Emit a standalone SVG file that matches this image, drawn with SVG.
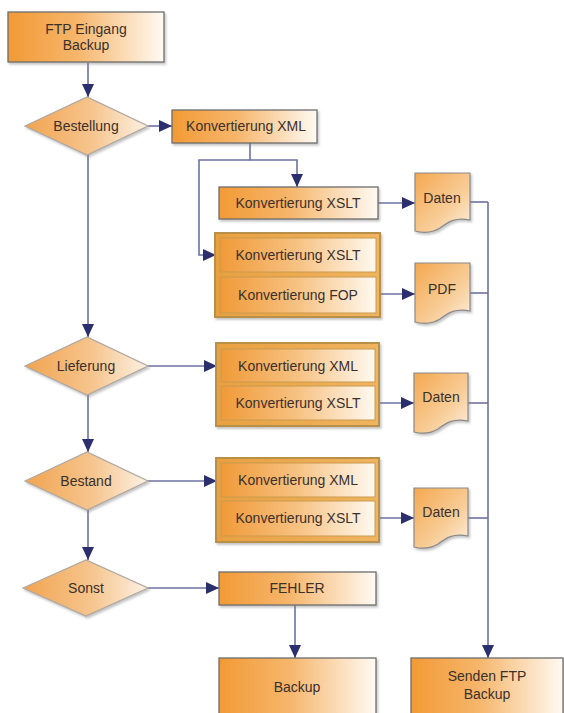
<svg xmlns="http://www.w3.org/2000/svg" width="564" height="713" viewBox="0 0 564 713">
<defs>
<linearGradient id="gBox" x1="0" y1="0" x2="1" y2="0">
<stop offset="0" stop-color="#F29A35"/>
<stop offset="0.45" stop-color="#F6B66C"/>
<stop offset="1" stop-color="#FFFAF3"/>
</linearGradient>
<linearGradient id="gRow" x1="0" y1="0" x2="1" y2="0">
<stop offset="0" stop-color="#F09A38"/>
<stop offset="0.5" stop-color="#F7C283"/>
<stop offset="1" stop-color="#FFF9F0"/>
</linearGradient>
<linearGradient id="gGrp" x1="0" y1="0" x2="1" y2="0">
<stop offset="0" stop-color="#E9A040"/>
<stop offset="1" stop-color="#F0B560"/>
</linearGradient>
<linearGradient id="gDia" x1="0" y1="0" x2="1" y2="0">
<stop offset="0" stop-color="#F1A450"/>
<stop offset="0.55" stop-color="#F6C58E"/>
<stop offset="1" stop-color="#FDF1E4"/>
</linearGradient>
<linearGradient id="gDoc" x1="0" y1="0" x2="1" y2="1">
<stop offset="0" stop-color="#F4A850"/>
<stop offset="0.6" stop-color="#F8CD98"/>
<stop offset="1" stop-color="#FDF0E0"/>
</linearGradient>
<marker id="arr" markerUnits="userSpaceOnUse" markerWidth="14" markerHeight="12" refX="13" refY="6" orient="auto">
<path d="M0,0 L13,6 L0,12 Z" fill="#2B2F6E"/>
</marker>
<filter id="sh" x="-10%" y="-10%" width="130%" height="140%">
<feDropShadow dx="1.5" dy="2" stdDeviation="1.2" flood-color="#808080" flood-opacity="0.45"/>
</filter>
</defs>
<style>
.box{fill:url(#gBox);stroke:#6E6E6E;stroke-width:1.3;filter:url(#sh)}
.grp{fill:url(#gGrp);stroke:#B8904A;stroke-width:2;filter:url(#sh)}
.row{fill:url(#gRow);stroke:#C89A50;stroke-width:1}
.dia{fill:url(#gDia);stroke:#B0A8A0;stroke-width:1.2;filter:url(#sh)}
.doc{fill:url(#gDoc);stroke:#8A8A8A;stroke-width:1.2;filter:url(#sh)}
.t{font-family:"Liberation Sans",Arial,sans-serif;font-size:14px;fill:#3A302C;text-anchor:middle;dominant-baseline:central}
.c{fill:none;stroke:#6C72A0;stroke-width:1.6}
.a{marker-end:url(#arr)}
</style>

<g id="connectors">
<path class="c a" d="M88,63 V97"/>
<path class="c a" d="M148,126 H172"/>
<path class="c a" d="M250,143 V160 H297 V187"/>
<path class="c a" d="M250,160 H199 V255 H216"/>
<path class="c a" d="M378,203 H415"/>
<path class="c a" d="M380,294 H415"/>
<path class="c" d="M470,202 H488"/>
<path class="c" d="M470,293 H488"/>
<path class="c" d="M468,403 H488"/>
<path class="c" d="M468,518 H488"/>
<path class="c a" d="M488,202 V658"/>
<path class="c a" d="M88,155 V337"/>
<path class="c a" d="M148,366 H217"/>
<path class="c a" d="M379,403 H414"/>
<path class="c a" d="M88,395 V452"/>
<path class="c a" d="M148,481 H217"/>
<path class="c a" d="M379,518 H414"/>
<path class="c a" d="M88,510 V560"/>
<path class="c a" d="M148,588 H219"/>
<path class="c a" d="M295,605 V658"/>
</g>

<g id="ftp-eingang">
<rect class="box" x="8" y="12" width="156" height="50"/>
<text class="t" x="86" y="29">FTP Eingang</text>
<text class="t" x="86" y="45">Backup</text>
</g>

<g id="bestellung">
<polygon class="dia" points="25,126 87,97 148,126 87,155"/>
<text class="t" x="86" y="126">Bestellung</text>
</g>

<g id="konv-xml-1">
<rect class="box" x="172" y="110" width="145" height="33"/>
<text class="t" x="246" y="126">Konvertierung XML</text>
</g>

<g id="konv-xslt-1">
<rect class="box" x="219" y="187" width="159" height="32"/>
<text class="t" x="298" y="203">Konvertierung XSLT</text>
</g>

<g id="gruppe-1">
<rect class="grp" x="215" y="233" width="165" height="84"/>
<rect class="row" x="220" y="238" width="156" height="34"/>
<rect class="row" x="220" y="277" width="156" height="36"/>
<text class="t" x="298" y="255">Konvertierung XSLT</text>
<text class="t" x="298" y="295">Konvertierung FOP</text>
</g>

<g id="daten-1">
<path class="doc" d="M415,173 H470 V220 C455,217 448,222 440,228 C432,233 423,233 415,231 Z"/>
<text class="t" x="442" y="198">Daten</text>
</g>

<g id="pdf">
<path class="doc" d="M415,263 H470 V311 C455,308 448,313 440,319 C432,324 423,324 415,322 Z"/>
<text class="t" x="442" y="289">PDF</text>
</g>

<g id="lieferung">
<polygon class="dia" points="25,366 87,337 148,366 87,395"/>
<text class="t" x="86" y="366">Lieferung</text>
</g>

<g id="gruppe-2">
<rect class="grp" x="216" y="343" width="163" height="83"/>
<rect class="row" x="221" y="349" width="154" height="33"/>
<rect class="row" x="221" y="386" width="154" height="34"/>
<text class="t" x="298" y="366">Konvertierung XML</text>
<text class="t" x="298" y="403">Konvertierung XSLT</text>
</g>

<g id="daten-2">
<path class="doc" d="M414,373 H468 V421 C453,418 446,423 438,429 C430,434 422,434 414,432 Z"/>
<text class="t" x="441" y="397">Daten</text>
</g>

<g id="bestand">
<polygon class="dia" points="25,481 87,452 148,481 87,510"/>
<text class="t" x="86" y="481">Bestand</text>
</g>

<g id="gruppe-3">
<rect class="grp" x="216" y="458" width="163" height="84"/>
<rect class="row" x="221" y="463" width="154" height="34"/>
<rect class="row" x="221" y="501" width="154" height="35"/>
<text class="t" x="298" y="480">Konvertierung XML</text>
<text class="t" x="298" y="518">Konvertierung XSLT</text>
</g>

<g id="daten-3">
<path class="doc" d="M414,488 H468 V536 C453,533 446,538 438,544 C430,549 422,549 414,547 Z"/>
<text class="t" x="441" y="512">Daten</text>
</g>

<g id="sonst">
<polygon class="dia" points="23,588 86,560 148,588 86,616"/>
<text class="t" x="86" y="588">Sonst</text>
</g>

<g id="fehler">
<rect class="box" x="219" y="572" width="157" height="33"/>
<text class="t" x="297" y="588">FEHLER</text>
</g>

<g id="backup">
<rect class="box" x="219" y="658" width="157" height="62"/>
<text class="t" x="297" y="687">Backup</text>
</g>

<g id="senden-ftp">
<rect class="box" x="411" y="658" width="152" height="62"/>
<text class="t" x="487" y="676">Senden FTP</text>
<text class="t" x="487" y="694">Backup</text>
</g>
</svg>
